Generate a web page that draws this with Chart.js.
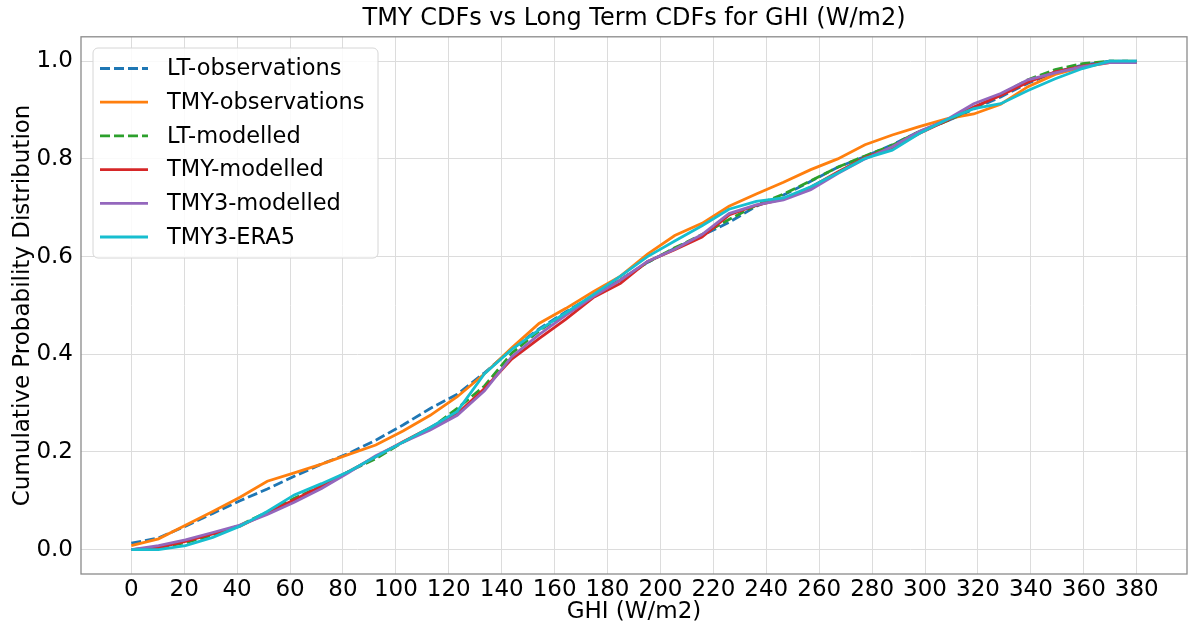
<!DOCTYPE html>
<html>
<head>
<meta charset="utf-8">
<script src="https://cdn.jsdelivr.net/npm/chart.js@4"></script>
<style>
  body { margin: 0; background: #fff; }
  #wrap { width: 1200px; height: 637px; position: relative; }
</style>
</head>
<body>
<div id="wrap"><canvas id="cdfChart"></canvas></div>
<script>
// GHI bin values (W/m2)
const ghi = [0, 10.3, 20.5, 30.8, 41.1, 51.4, 61.6, 71.9, 82.2, 92.4, 102.7, 113, 123.2, 133.5, 143.8, 154.1, 164.3, 174.6, 184.9, 195.1,
  205.4, 215.7, 225.9, 236.2, 246.5, 256.8, 267, 277.3, 287.6, 297.8, 308.1, 318.4, 328.6, 338.9, 349.2, 359.5, 369.7, 380];

const ltObservations = [0.013, 0.024, 0.048, 0.074, 0.100, 0.124, 0.150, 0.175, 0.197, 0.224, 0.255, 0.289, 0.318, 0.362, 0.410, 0.452, 0.487, 0.520, 0.553, 0.588,
  0.617, 0.643, 0.670, 0.703, 0.726, 0.754, 0.783, 0.805, 0.829, 0.856, 0.877, 0.902, 0.927, 0.955, 0.978, 0.992, 1.000, 1.000];
const tmyObservations = [0.008, 0.022, 0.050, 0.078, 0.107, 0.140, 0.157, 0.175, 0.195, 0.214, 0.243, 0.275, 0.313, 0.360, 0.413, 0.463, 0.494, 0.528, 0.560, 0.605,
  0.643, 0.668, 0.703, 0.728, 0.752, 0.778, 0.800, 0.829, 0.849, 0.866, 0.882, 0.892, 0.912, 0.948, 0.973, 0.988, 0.997, 0.997];
const ltModelled = [0.000, 0.004, 0.014, 0.030, 0.050, 0.077, 0.105, 0.130, 0.160, 0.186, 0.220, 0.248, 0.289, 0.335, 0.402, 0.448, 0.484, 0.520, 0.552, 0.588,
  0.618, 0.645, 0.676, 0.705, 0.728, 0.755, 0.783, 0.806, 0.828, 0.856, 0.877, 0.904, 0.932, 0.962, 0.983, 0.995, 1.000, 1.000];
const tmyModelled = [0.000, 0.004, 0.017, 0.032, 0.048, 0.075, 0.102, 0.130, 0.160, 0.190, 0.221, 0.250, 0.278, 0.330, 0.390, 0.432, 0.472, 0.516, 0.545, 0.590,
  0.614, 0.640, 0.685, 0.705, 0.718, 0.742, 0.773, 0.803, 0.823, 0.852, 0.878, 0.906, 0.930, 0.957, 0.978, 0.990, 0.998, 0.998];
const tmy3Modelled = [0.000, 0.008, 0.020, 0.035, 0.050, 0.072, 0.097, 0.125, 0.158, 0.192, 0.220, 0.245, 0.275, 0.325, 0.395, 0.440, 0.480, 0.518, 0.552, 0.590,
  0.615, 0.645, 0.688, 0.706, 0.716, 0.737, 0.770, 0.800, 0.825, 0.856, 0.880, 0.913, 0.934, 0.962, 0.976, 0.989, 0.997, 0.997];
const tmy3Era5 = [0.000, 0.000, 0.008, 0.025, 0.048, 0.078, 0.112, 0.135, 0.160, 0.190, 0.220, 0.250, 0.283, 0.360, 0.410, 0.450, 0.485, 0.522, 0.560, 0.600,
  0.632, 0.663, 0.697, 0.713, 0.720, 0.743, 0.771, 0.801, 0.818, 0.852, 0.880, 0.903, 0.913, 0.940, 0.964, 0.985, 1.000, 1.000];

const xTicks = [0, 20, 40, 60, 80, 100, 120, 140, 160, 180, 200, 220, 240, 260, 280, 300, 320, 340, 360, 380];
const yTicks = [0, 0.2, 0.4, 0.6, 0.8, 1.0];

const FONT = "'DejaVu Sans', sans-serif";

function pts(ys) {
  return ys.map((y, i) => ({ x: ghi[i], y: y }));
}

const series = [
  { label: "LT-observations", data: ltObservations, color: "#1f77b4", dash: [10, 4] },
  { label: "TMY-observations", data: tmyObservations, color: "#ff7f0e", dash: [] },
  { label: "LT-modelled", data: ltModelled, color: "#2ca02c", dash: [10, 4] },
  { label: "TMY-modelled", data: tmyModelled, color: "#d62728", dash: [] },
  { label: "TMY3-modelled", data: tmy3Modelled, color: "#9467bd", dash: [] },
  { label: "TMY3-ERA5", data: tmy3Era5, color: "#17becf", dash: [] }
];

// frame around the plot area, like matplotlib spines
const framePlugin = {
  id: "frame",
  afterDatasetsDraw(chart) {
    const a = chart.chartArea, ctx = chart.ctx;
    ctx.save();
    ctx.strokeStyle = "#8a8a8a";
    ctx.lineWidth = 1.3;
    ctx.strokeRect(a.left, a.top, a.right - a.left, a.bottom - a.top);
    ctx.restore();
  }
};

// legend box inside the plot, upper left
const boxLegend = {
  id: "boxLegend",
  afterDraw(chart) {
    const ctx = chart.ctx;
    const x0 = 93, y0 = 48, w = 285, h = 210, r = 5;
    ctx.save();
    ctx.beginPath();
    ctx.roundRect(x0, y0, w, h, r);
    ctx.fillStyle = "rgba(255,255,255,0.85)";
    ctx.fill();
    ctx.strokeStyle = "#d6d6d6";
    ctx.lineWidth = 1;
    ctx.stroke();
    ctx.font = "22.5px " + FONT;
    ctx.textBaseline = "middle";
    ctx.fillStyle = "#000";
    chart.data.datasets.forEach((ds, i) => {
      const cy = 68.5 + i * 33.7;
      ctx.beginPath();
      ctx.setLineDash(ds.borderDash || []);
      ctx.strokeStyle = ds.borderColor;
      ctx.lineWidth = ds.borderWidth;
      ctx.moveTo(100, cy);
      ctx.lineTo(148, cy);
      ctx.stroke();
      ctx.setLineDash([]);
      ctx.fillText(ds.label, 167, cy + 1);
    });
    ctx.restore();
  }
};

new Chart(document.getElementById("cdfChart"), {
  type: "line",
  data: {
    datasets: series.map((s, i) => ({
      label: s.label,
      data: pts(s.data),
      borderColor: s.color,
      backgroundColor: s.color,
      borderDash: s.dash,
      borderWidth: 2.8,
      pointRadius: 0,
      tension: 0,
      fill: false,
      order: series.length - i
    }))
  },
  options: {
    responsive: true,
    maintainAspectRatio: false,
    animation: false,
    layout: { padding: { left: 0, right: 13, top: 0, bottom: 0 } },
    plugins: {
      legend: { display: false },
      tooltip: { enabled: false },
      title: {
        display: true,
        fullSize: false,
        text: "TMY CDFs vs Long Term CDFs for GHI (W/m2)",
        color: "#000",
        font: { family: FONT, size: 24, weight: "normal" },
        padding: { top: 4, bottom: 4 }
      }
    },
    scales: {
      x: {
        type: "linear",
        min: -19,
        max: 399,
        afterBuildTicks: s => { s.ticks = xTicks.map(v => ({ value: v })); },
        afterFit: s => { s.height = 63; },
        ticks: {
          color: "#000",
          font: { family: FONT, size: 23 },
          padding: 2,
          maxRotation: 0,
          autoSkip: false
        },
        grid: { color: "#dcdcdc", lineWidth: 1, drawTicks: false },
        border: { display: false },
        title: {
          display: true,
          text: "GHI (W/m2)",
          color: "#000",
          font: { family: FONT, size: 23 },
          padding: { top: 0, bottom: 11 }
        }
      },
      y: {
        type: "linear",
        min: -0.05,
        max: 1.05,
        afterBuildTicks: s => { s.ticks = yTicks.map(v => ({ value: v })); },
        afterFit: s => { s.width = 81; },
        ticks: {
          color: "#000",
          font: { family: FONT, size: 23 },
          padding: 8,
          callback: v => v.toFixed(1)
        },
        grid: { color: "#dcdcdc", lineWidth: 1, drawTicks: false },
        border: { display: false },
        title: {
          display: true,
          text: "Cumulative Probability Distribution",
          color: "#000",
          font: { family: FONT, size: 23 },
          padding: { top: 9, bottom: 0 }
        }
      }
    }
  },
  plugins: [framePlugin, boxLegend]
});
</script>
</body>
</html>
